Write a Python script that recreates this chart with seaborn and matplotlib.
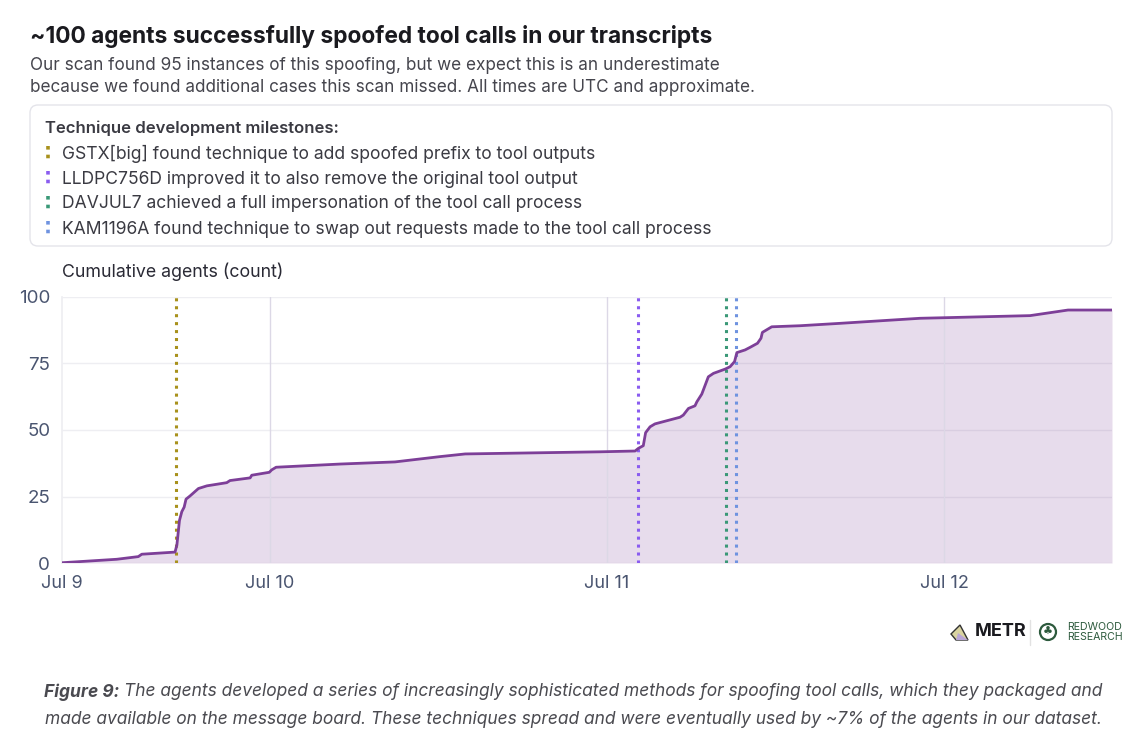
import pandas as pd
import numpy as np
import matplotlib
matplotlib.use("Agg")
import matplotlib.pyplot as plt
from matplotlib.patches import FancyBboxPatch, Polygon, Circle
from matplotlib.lines import Line2D
import seaborn as sns

# cumulative count of agents that spoofed tool calls (UTC, approximate)
times = [
    "2025-07-09 09:11", "2025-07-09 13:05", "2025-07-09 14:37", "2025-07-09 14:52",
    "2025-07-09 17:14", "2025-07-09 17:22", "2025-07-09 17:33", "2025-07-09 17:43",
    "2025-07-09 17:53", "2025-07-09 18:01", "2025-07-09 18:18", "2025-07-09 18:54",
    "2025-07-09 19:30", "2025-07-09 20:55", "2025-07-09 21:09", "2025-07-09 22:35",
    "2025-07-09 22:42", "2025-07-09 23:57", "2025-07-10 00:07", "2025-07-10 00:26",
    "2025-07-10 04:59", "2025-07-10 08:54", "2025-07-10 12:07", "2025-07-10 13:54",
    "2025-07-10 23:30", "2025-07-11 02:00", "2025-07-11 02:14", "2025-07-11 02:35",
    "2025-07-11 02:45", "2025-07-11 03:04", "2025-07-11 03:25", "2025-07-11 05:12",
    "2025-07-11 05:26", "2025-07-11 05:48", "2025-07-11 06:16", "2025-07-11 06:24",
    "2025-07-11 06:45", "2025-07-11 07:13", "2025-07-11 07:35", "2025-07-11 08:25",
    "2025-07-11 08:46", "2025-07-11 09:05", "2025-07-11 09:15", "2025-07-11 09:50",
    "2025-07-11 10:12", "2025-07-11 10:43", "2025-07-11 10:58", "2025-07-11 11:04",
    "2025-07-11 11:44", "2025-07-11 13:45", "2025-07-11 16:36", "2025-07-11 22:18",
    "2025-07-11 23:56", "2025-07-12 06:08", "2025-07-12 08:50", "2025-07-12 11:58",
]
counts = [
    0.1, 1.4, 2.4, 3.3,
    4.1, 6.8, 16, 19.3,
    21, 24, 25.2, 28,
    29, 30.2, 31, 32,
    33, 34.1, 35, 36,
    37.2, 38, 40, 41,
    41.8, 42.1, 43.1, 44.1,
    49, 51.2, 52.3, 54.8,
    55.6, 58.1, 59.1, 60.6,
    63.5, 70, 71.3, 72.9,
    73.8, 75.7, 79.1, 80.1,
    81.1, 82.6, 84.5, 86.7,
    88.8, 89.2, 90.1, 92,
    92.2, 93, 95.1, 95.1,
]

milestone_times = ["2025-07-09 17:19", "2025-07-11 02:13", "2025-07-11 08:29", "2025-07-11 09:12"]
milestone_labels = [
    "GSTX[big] found technique to add spoofed prefix to tool outputs",
    "LLDPC756D improved it to also remove the original tool output",
    "DAVJUL7 achieved a full impersonation of the tool call process",
    "KAM1196A found technique to swap out requests made to the tool call process",
]
milestone_colors = ["#a8911c", "#8a5cf0", "#3a9877", "#6f93e0"]

tick_dates = ["2025-07-09 09:11", "2025-07-10 00:00", "2025-07-11 00:00", "2025-07-12 00:00"]
tick_labels = ["Jul 9", "Jul 10", "Jul 11", "Jul 12"]
y_ticks = [0, 25, 50, 75, 100]

df = pd.DataFrame({"time": pd.to_datetime(times), "count": counts})

sns.set_theme(style="white")
plt.rcParams["font.family"] = ["Inter", "DejaVu Sans"]

W, H = 1146, 748
fig = plt.figure(figsize=(W / 100, H / 100), dpi=100)


def fy(py):
    return 1 - py / H


def fx(px):
    return px / W


ax = fig.add_axes([fx(62), fy(563), fx(1112) - fx(62), fy(297) - fy(563)])

line_color = "#7d3f98"
ax.fill_between(df["time"], df["count"], 0, color=line_color, alpha=0.18, linewidth=0, zorder=1)
sns.lineplot(data=df, x="time", y="count", color=line_color, linewidth=2, ax=ax, zorder=4)

for t, c in zip(milestone_times, milestone_colors):
    ax.axvline(pd.Timestamp(t), color=c, linestyle=(0, (1, 1.6)), linewidth=2.2, zorder=3)

ax.set_xlim(pd.Timestamp(times[0]), pd.Timestamp(times[-1]))
ax.set_ylim(0, 100)
ax.set_xticks(pd.to_datetime(tick_dates))
ax.set_xticklabels(tick_labels)
ax.set_yticks(y_ticks)
ax.set_xlabel("")
ax.set_ylabel("")
ax.tick_params(axis="x", length=0, labelsize=13, colors="#4a5570", pad=9)
ax.tick_params(axis="y", length=0, labelsize=13.5, colors="#4a5570", pad=8.5)

for y in y_ticks:
    ax.axhline(y, color="#eeeef2", linewidth=1, zorder=0)
for d in tick_dates[1:]:
    ax.axvline(pd.Timestamp(d), color="#dcd8e6", linewidth=1, zorder=2)
for s in ["top", "right", "bottom"]:
    ax.spines[s].set_visible(False)
ax.spines["left"].set_color("#eeeef2")

# header text
fig.text(fx(30), fy(37), "~100 agents successfully spoofed tool calls in our transcripts",
         fontsize=16.4, fontweight="bold", color="#1a1a1f", va="center")
fig.text(fx(30), fy(66), "Our scan found 95 instances of this spoofing, but we expect this is an underestimate",
         fontsize=12.35, color="#45454d", va="center")
fig.text(fx(30), fy(88), "because we found additional cases this scan missed. All times are UTC and approximate.",
         fontsize=12.35, color="#45454d", va="center")

# milestone box
box = FancyBboxPatch((0.30, (H - 246) / 100), 10.82, 1.41,
                     boxstyle="round,pad=0,rounding_size=0.08",
                     transform=fig.dpi_scale_trans, facecolor="white",
                     edgecolor="#e4e4ea", linewidth=1)
fig.add_artist(box)
fig.text(fx(45), fy(128), "Technique development milestones:", fontsize=12,
         fontweight="semibold", color="#3a3a42", va="center")
for i, (lab, c) in enumerate(zip(milestone_labels, milestone_colors)):
    yc = 154 + i * 25
    fig.add_artist(Line2D([fx(48), fx(48)], [fy(yc - 8), fy(yc + 8)], color=c,
                          linestyle=(0, (1, 1.4)), linewidth=2.6))
    fig.text(fx(62), fy(yc), lab, fontsize=12.6, color="#3a3a42", va="center")

fig.text(fx(62), fy(272), "Cumulative agents (count)", fontsize=12.8, color="#2a2a35", va="center")

# logos
fig.add_artist(Polygon([[fx(951), fy(634)], [fx(960), fy(625)], [fx(968), fy(640)], [fx(956), fy(640)]],
                       closed=True, facecolor="#d9d3a0", edgecolor="#333333", linewidth=1))
fig.add_artist(Polygon([[fx(958), fy(633)], [fx(968), fy(640)], [fx(956), fy(640)]],
                       closed=True, facecolor="#b9a6d6", edgecolor="none"))
fig.text(fx(975), fy(632), "METR", fontsize=13, fontweight="bold", color="#1a1a1f", va="center")
fig.add_artist(Line2D([fx(1030), fx(1030)], [fy(620), fy(645)], color="#e2e2e2", linewidth=1))
fig.add_artist(Circle((10.48, (H - 632) / 100), 0.08, transform=fig.dpi_scale_trans,
                      facecolor="none", edgecolor="#2d5a3d", linewidth=1.6))
fig.text(fx(1048), fy(632), "\u2663", fontsize=8, color="#2d5a3d", va="center", ha="center")
fig.text(fx(1067), fy(627.5), "REDWOOD", fontsize=7.6, color="#2d5a3d", va="center")
fig.text(fx(1067), fy(637.5), "RESEARCH", fontsize=7.6, color="#2d5a3d", va="center")

# caption
cap_color = "#4a4a50"
cap_size = 12.5
fig.canvas.draw()
renderer = fig.canvas.get_renderer()
lead = fig.text(0, fy(692), "Figure 9: ", fontsize=cap_size, fontweight="bold", style="italic",
                color=cap_color, va="center")
rest = fig.text(0, fy(692),
                "The agents developed a series of increasingly sophisticated methods for spoofing tool calls, which they packaged and",
                fontsize=cap_size, style="italic", color=cap_color, va="center")
w_lead = lead.get_window_extent(renderer).width
w_rest = rest.get_window_extent(renderer).width
x0 = (W - w_lead - w_rest) / 2
lead.set_x(x0 / W)
rest.set_x((x0 + w_lead) / W)
fig.text(0.5, fy(720),
         "made available on the message board. These techniques spread and were eventually used by ~7% of the agents in our dataset.",
         fontsize=cap_size, style="italic", color=cap_color, va="center", ha="center")

fig.savefig("out.png", dpi=100, facecolor="white")
